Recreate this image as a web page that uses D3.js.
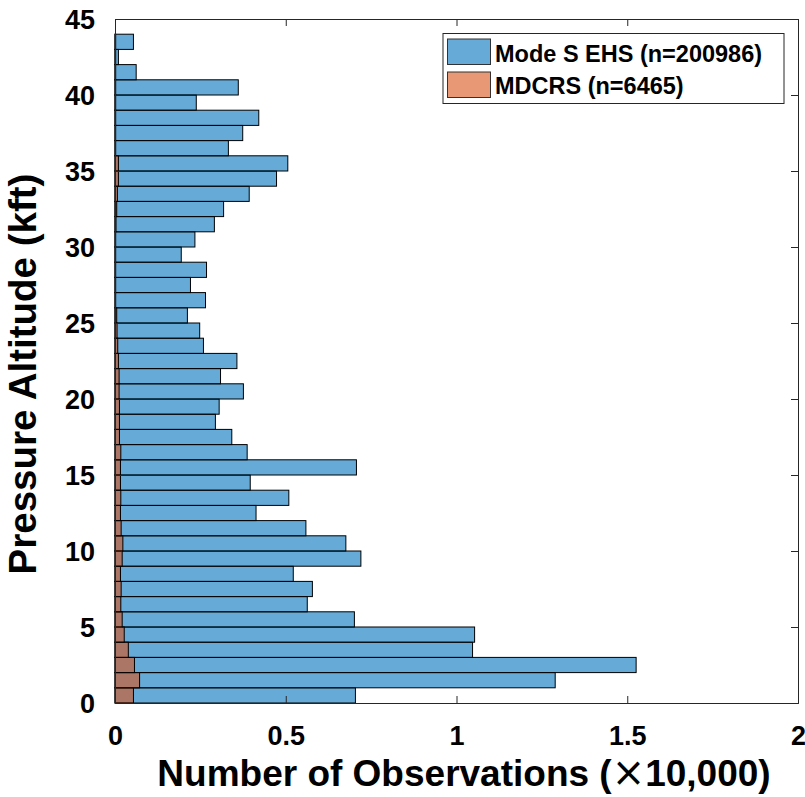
<!DOCTYPE html>
<html>
<head>
<meta charset="utf-8">
<script src="https://cdn.jsdelivr.net/npm/d3@7"></script>
<style>
  body { margin: 0; background: #fff; }
  text { font-family: "Liberation Sans", Arial, sans-serif; font-weight: bold; fill: #000; }
</style>
</head>
<body>
<div id="chart"></div>
<script>
// histogram bins, 1 kft wide, lower edge of each bin
var binEdges = d3.range(0, 44);

// counts in units of 10,000 observations
var modeS = [0.704, 1.289, 1.526, 1.047, 1.053, 0.701, 0.563, 0.578, 0.522, 0.720,
             0.676, 0.559, 0.413, 0.509, 0.396, 0.707, 0.387, 0.342, 0.294, 0.305,
             0.376, 0.309, 0.357, 0.259, 0.248, 0.212, 0.265, 0.221, 0.268, 0.194,
             0.234, 0.291, 0.318, 0.393, 0.473, 0.506, 0.332, 0.374, 0.421, 0.238,
             0.361, 0.062, 0.010, 0.054];
var mdcrs = [0.054, 0.072, 0.057, 0.039, 0.027, 0.021, 0.017, 0.018, 0.016, 0.021,
             0.023, 0.018, 0.016, 0.017, 0.016, 0.016, 0.017, 0.013, 0.013, 0.013,
             0.012, 0.012, 0.010, 0.008, 0.006, 0.005, 0.002, 0.002, 0.002, 0.002,
             0.002, 0.003, 0.005, 0.007, 0.010, 0.010, 0.002, 0.002, 0.002, 0.002,
             0.002, 0.002, 0.002, 0.002];

var xTicks = [0, 0.5, 1, 1.5, 2];
var yTicks = d3.range(0, 46, 5);
var seriesNames = ['Mode S EHS (n=200986)', 'MDCRS (n=6465)'];
var seriesColors = ['#0072BD', '#D95319'];

var svgWidth = 805, svgHeight = 797;
var plot = { left: 115, right: 798, top: 19, bottom: 703 };

var svg = d3.select('#chart').append('svg')
  .attr('width', svgWidth)
  .attr('height', svgHeight);

var x = d3.scaleLinear().domain([0, 2]).range([plot.left, plot.right]);
var y = d3.scaleLinear().domain([0, 45]).range([plot.bottom, plot.top]);

// bars: blue first, orange drawn over it
[modeS, mdcrs].forEach(function(series, i) {
  svg.append('g').selectAll('rect')
    .data(series)
    .enter()
    .append('rect')
    .attr('x', x(0))
    .attr('y', (d, k) => y(binEdges[k] + 1))
    .attr('width', d => x(d) - x(0))
    .attr('height', (d, k) => y(binEdges[k]) - y(binEdges[k] + 1))
    .attr('fill', seriesColors[i])
    .attr('fill-opacity', 0.6)
    .attr('stroke', '#000')
    .attr('stroke-width', 1);
});

// box with inward ticks on all sides
var tickLen = 7;
var axisColor = '#262626';
var bottomAxis = d3.axisBottom(x).tickValues(xTicks).tickSize(-tickLen).tickFormat(d3.format('~g'));
var topAxis = d3.axisTop(x).tickValues(xTicks).tickSize(-tickLen).tickFormat('');
var leftAxis = d3.axisLeft(y).tickValues(yTicks).tickSize(-tickLen).tickFormat(d3.format('d'));
var rightAxis = d3.axisRight(y).tickValues(yTicks).tickSize(-tickLen).tickFormat('');

var gx = svg.append('g').attr('transform', `translate(0, ${plot.bottom})`).call(bottomAxis);
svg.append('g').attr('transform', `translate(0, ${plot.top})`).call(topAxis);
var gy = svg.append('g').attr('transform', `translate(${plot.left}, 0)`).call(leftAxis);
svg.append('g').attr('transform', `translate(${plot.right}, 0)`).call(rightAxis);

svg.selectAll('.domain').attr('stroke', axisColor).attr('stroke-width', 1);
svg.selectAll('.tick line').attr('stroke', axisColor);

gx.selectAll('.tick text')
  .attr('y', 0).attr('dy', 0)
  .attr('transform', 'translate(0, 42)')
  .style('font-family', 'Liberation Sans, Arial, sans-serif')
  .style('font-weight', 'bold')
  .style('font-size', '27px')
  .attr('fill', '#000');

gy.selectAll('.tick text')
  .attr('x', -20).attr('dy', '0.35em')
  .style('font-family', 'Liberation Sans, Arial, sans-serif')
  .style('font-weight', 'bold')
  .style('font-size', '27px')
  .attr('fill', '#000');

// axis titles
var xTitle = svg.append('text')
  .attr('x', 464)
  .attr('y', 786)
  .attr('text-anchor', 'middle')
  .style('font-size', '37px');
xTitle.append('tspan').text('Number of Observations (');
xTitle.append('tspan').style('font-weight', 'normal').style('font-family', 'DejaVu Sans').style('font-size', '40px').text('\u00D7');
xTitle.append('tspan').text('10,000)');

svg.append('text')
  .attr('transform', 'translate(36, 374) rotate(-90)')
  .attr('text-anchor', 'middle')
  .style('font-size', '38.5px')
  .text('Pressure Altitude (kft)');

// legend
var legend = svg.append('g');
legend.append('rect')
  .attr('x', 443).attr('y', 33.5)
  .attr('width', 341).attr('height', 70)
  .attr('fill', '#fff')
  .attr('stroke', axisColor)
  .attr('stroke-width', 1);

seriesNames.forEach(function(name, i) {
  legend.append('rect')
    .attr('x', 447.5).attr('y', 39 + i * 33)
    .attr('width', 43).attr('height', 25.5)
    .attr('fill', seriesColors[i])
    .attr('fill-opacity', 0.6)
    .attr('stroke', '#333')
    .attr('stroke-width', 1);
  legend.append('text')
    .attr('x', 495)
    .attr('y', 62 + i * 32)
    .style('font-size', '23.5px')
    .text(name);
});
</script>
</body>
</html>
